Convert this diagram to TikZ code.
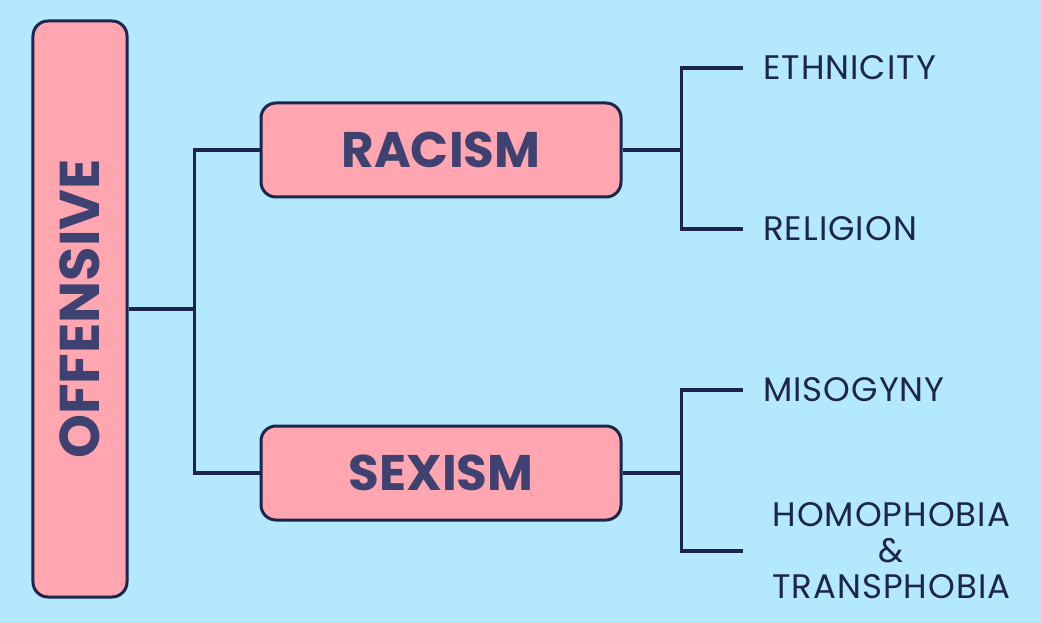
\documentclass[tikz,border=0pt]{standalone}
\usepackage{fontspec}
\setmainfont{Poppins}
\newfontfamily\leaffont[LetterSpace=3]{Poppins}
\usetikzlibrary{positioning,calc}
\definecolor{bgcol}{RGB}{180,232,253}
\definecolor{boxcol}{RGB}{255,166,177}
\definecolor{linecol}{RGB}{27,37,77}
\definecolor{headcol}{RGB}{63,66,112}
\begin{document}
\begin{tikzpicture}[x=1bp,y=-1bp,line join=miter,
  box/.style={draw=linecol,fill=boxcol,line width=3bp,rounded corners=15bp,inner sep=0pt},
  head/.style={text=headcol,font=\bfseries\fontsize{50bp}{56bp}\selectfont},
  leaf/.style={anchor=west,inner xsep=20bp,inner ysep=0pt,text=linecol,
    font=\leaffont\fontsize{34bp}{36bp}\selectfont},
  conn/.style={draw=linecol,line width=3.5bp}]
\fill[bgcol] (0,0) rectangle (1041,623);
\useasboundingbox (0,0) rectangle (1041,623);
% main boxes
\node[box,minimum width=94bp,minimum height=576bp] (off) at (80,309) {};
\node[head,rotate=90,font=\bfseries\fontsize{56bp}{60bp}\selectfont] (offtxt) at (off.center) {OFFENSIVE};
\node[box,minimum width=360bp,minimum height=94bp] (racism) at (441,150) {};
\node[head] (racismtxt) at (racism.center) {RACISM};
\node[box,minimum width=360bp,minimum height=94bp] (sexism) at (441,473) {};
\node[head] (sexismtxt) at (sexism.center) {SEXISM};
% leaves
\node[leaf] (eth) at (743,68) {ETHNICITY};
\node[leaf] (rel) at (743,229) {RELIGION};
\node[leaf] (miso) at (743,390) {MISOGYNY};
\node[leaf,align=center,inner xsep=29bp] (homo) at (743,551) {HOMOPHOBIA\\\&\\TRANSPHOBIA};
% connectors
\draw[conn] (off.east) -- ++(66,0);
\draw[conn] (racism.west) -| ($(off.east)+(66,0)$) |- (sexism.west);
\draw[conn] (racism.east) -- ++(59,0);
\draw[conn] (eth.west) -| ($(racism.east)+(59,0)$) |- (rel.west);
\draw[conn] (sexism.east) -- ++(59,0);
\draw[conn] (miso.west) -| ($(sexism.east)+(59,0)$) |- (homo.west);
\end{tikzpicture}
\end{document}
